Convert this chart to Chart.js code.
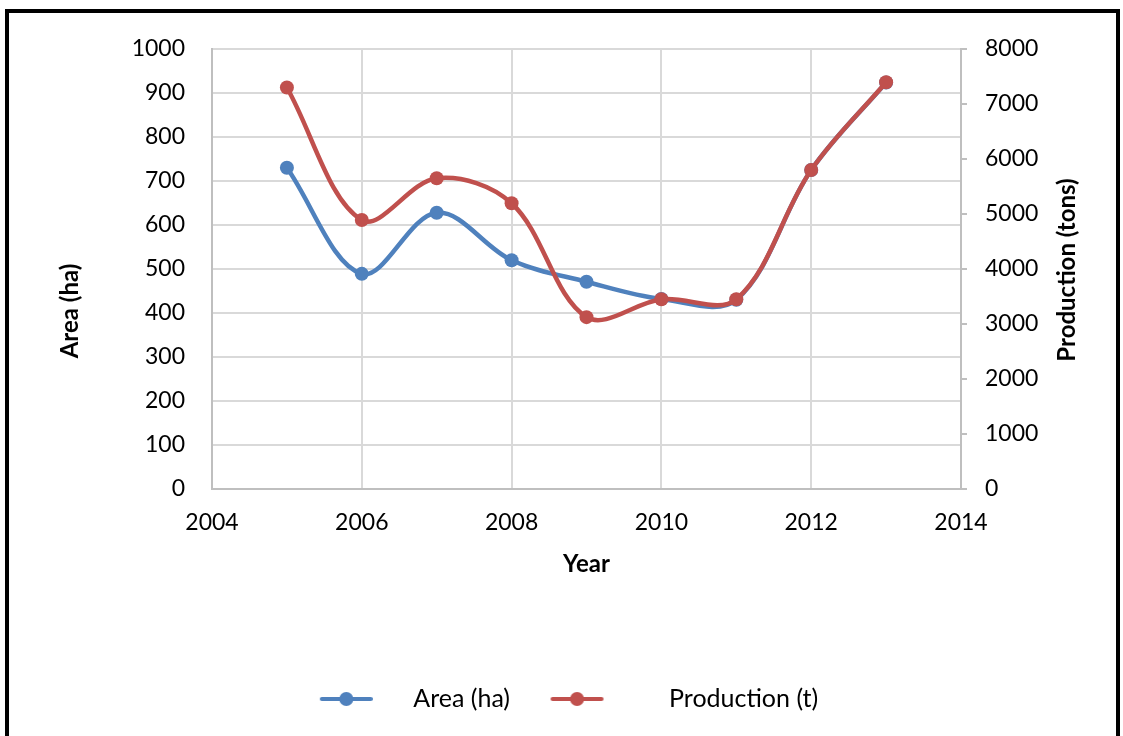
<!DOCTYPE html>
<html>
<head>
<meta charset="utf-8">
<title>Area y produccion</title>
<script src="https://cdn.jsdelivr.net/npm/chart.js@4.4.1/dist/chart.umd.min.js"></script>
<style>
body{margin:0;background:#fff;overflow:hidden;}
#marco{position:absolute;left:5px;top:9px;width:1107px;height:780px;border:4px solid #000;}
#grafica{position:absolute;left:0;top:0;}
</style>
</head>
<body>
<div id="marco"></div>
<canvas id="grafica" width="1123" height="736"></canvas>
<script>
//-------------datos-----------------//
const anios = [2005, 2006, 2007, 2008, 2009, 2010, 2011, 2012, 2013];
const area = [730, 489, 628, 520, 471, 432, 430, 725, 924];
const produccion = [7300, 4890, 5650, 5195, 3125, 3450, 3450, 5800, 7395];

// limites de los ejes
const ejeX = [2004, 2014, 2];
const ejeArea = [0, 1000, 100];
const ejeProd = [0, 8000, 1000];

const AZUL = '#4F81BD';
const ROJO = '#C0504D';
//-----------------------------------//

window.onload = function() {
	inicial();
}

function puntos(valores){
	return anios.map(function(a, i){ return {x: a, y: valores[i]}; });
}

// icono de la leyenda: linea con el punto en medio
// (ancho = ancho del canvas, la linea va pegada a la izquierda)
function iconoLeyenda(color, ancho){
	const c = document.createElement('canvas');
	c.width = ancho;
	c.height = 16;
	const g = c.getContext('2d');
	g.strokeStyle = color;
	g.lineWidth = 4;
	g.lineCap = 'round';
	g.beginPath();
	g.moveTo(3, 8);
	g.lineTo(52, 8);
	g.stroke();
	g.fillStyle = color;
	g.beginPath();
	g.arc(27.5, 8, 7, 0, Math.PI * 2);
	g.fill();
	return c;
}

function escribirVertical(ctx, texto, x, y){
	ctx.save();
	ctx.translate(x, y);
	ctx.rotate(-Math.PI / 2);
	ctx.fillText(texto, 0, 0);
	ctx.restore();
}

// titulos de los ejes Y (los dos se leen de abajo hacia arriba)
const titulosY = {
	id: 'titulosY',
	afterDraw(chart){
		const ctx = chart.ctx;
		const area = chart.chartArea;
		ctx.save();
		ctx.font = 'bold 24px Lato';
		ctx.fillStyle = '#000';
		ctx.textAlign = 'center';
		ctx.textBaseline = 'middle';
		escribirVertical(ctx, 'Area (ha)', area.left - 142, area.top + 262);
		escribirVertical(ctx, 'Production (tons)', area.right + 106, area.top + 221);
		ctx.restore();
	}
};

function inicial(){
	Chart.defaults.font.family = 'Lato';
	Chart.defaults.color = '#000';
	const iconos = [iconoLeyenda(AZUL, 54), iconoLeyenda(ROJO, 104)];
	const ctx = document.getElementById('grafica').getContext('2d');

	new Chart(ctx, {
		type: 'line',
		data: {
			datasets: [{
				label: 'Area (ha)',
				data: puntos(area),
				yAxisID: 'y',
				borderColor: AZUL,
				backgroundColor: AZUL,
				pointBackgroundColor: AZUL,
				borderWidth: 4.5,
				pointRadius: 7,
				pointBorderWidth: 0,
				tension: 0.35,
				order: 1
			}, {
				label: 'Production (t)',
				data: puntos(produccion),
				yAxisID: 'y1',
				borderColor: ROJO,
				backgroundColor: ROJO,
				pointBackgroundColor: ROJO,
				borderWidth: 4.5,
				pointRadius: 7,
				pointBorderWidth: 0,
				tension: 0.35,
				order: 0
			}]
		},
		options: {
			responsive: false,
			animation: false,
			layout: {padding: {top: 49, left: 0, right: 14, bottom: 14.5}},
			plugins: {
				tooltip: {enabled: false},
				legend: {
					position: 'bottom',
					labels: {
						usePointStyle: true,
						pointStyleWidth: 110,
						padding: 36.5,
						font: {size: 25},
						color: '#000',
						sort: function(a, b){ return a.datasetIndex - b.datasetIndex; },
						generateLabels: function(chart){
							const items = Chart.defaults.plugins.legend.labels.generateLabels(chart);
							items.forEach(function(it){ it.pointStyle = iconos[it.datasetIndex]; });
							return items;
						}
					}
				}
			},
			scales: {
				x: {
					type: 'linear',
					min: ejeX[0],
					max: ejeX[1],
					ticks: {stepSize: ejeX[2], padding: 20, font: {size: 23}, callback: function(v){ return String(v); }},
					grid: {color: '#D9D9D9', lineWidth: 2, drawTicks: false},
					border: {color: '#BFBFBF', width: 2},
					title: {display: true, text: 'Year', font: {size: 24, weight: 'bold'}, padding: {top: 0, bottom: 71}},
					afterFit: function(s){ s.height = 161; }
				},
				y: {
					position: 'left',
					min: ejeArea[0],
					max: ejeArea[1],
					ticks: {stepSize: ejeArea[2], padding: 27, font: {size: 23}, callback: function(v){ return String(v); }},
					grid: {color: '#D9D9D9', lineWidth: 2, drawTicks: false},
					border: {color: '#BFBFBF', width: 2},
					afterFit: function(s){ s.width = 212; }
				},
				y1: {
					position: 'right',
					min: ejeProd[0],
					max: ejeProd[1],
					ticks: {stepSize: ejeProd[2], padding: 18, font: {size: 23}, callback: function(v){ return String(v); }},
					grid: {drawOnChartArea: false, color: '#BFBFBF', lineWidth: 2, tickLength: 6},
					border: {color: '#BFBFBF', width: 2},
					afterFit: function(s){ s.width = 148; }
				}
			}
		},
		plugins: [titulosY]
	});
}
</script>
</body>
</html>
